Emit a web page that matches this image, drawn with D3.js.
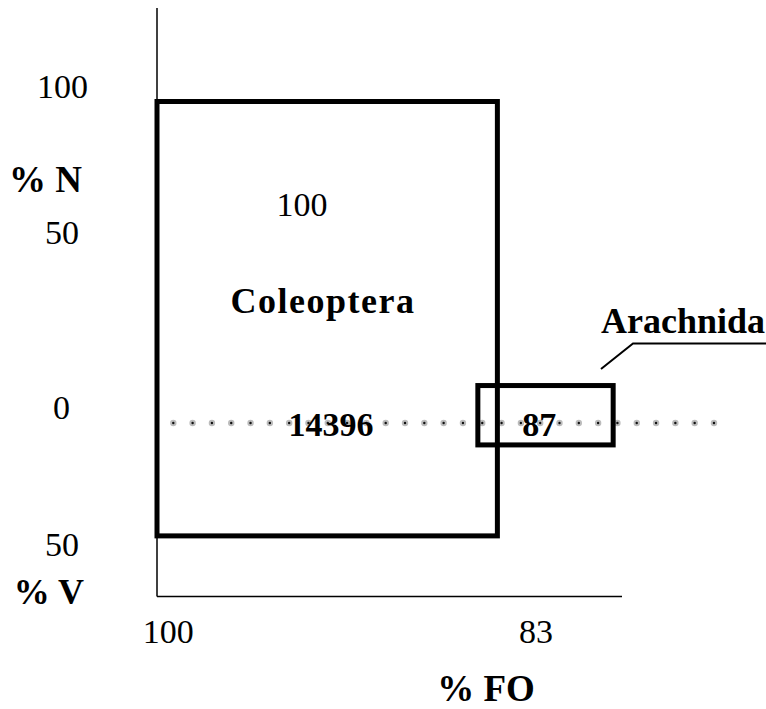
<!DOCTYPE html>
<html>
<head>
<meta charset="utf-8">
<script src="https://cdn.jsdelivr.net/npm/d3@7"></script>
<style>
  body { margin: 0; background: #fff; }
</style>
</head>
<body>
<svg id="chart"></svg>
<script>
// prey taxa and their boxes (FO along x, %N above zero, %V below zero)
var taxa = ["Coleoptera", "Arachnida"];
var foFrom = [0, 69];
var foTo = [73.2, 98.1];
var pctN = [100, 10.7];
var pctV = [41.2, 8];
var counts = ["14396", "87"];
var nLabel = ["100", ""];

var yTicks = [100, 50, 0, -50];
var yTickText = ["100", "50", "0", "50"];
var foTicks = [2.4, 81.5];
var foTickText = ["100", "83"];

var width = 766, height = 709;
var serif = "Liberation Serif";

var svg = d3.select("#chart")
    .attr("width", width)
    .attr("height", height);

var x = d3.scaleLinear()
    .domain([0, 100])
    .range([157, 622]);

// %V is drawn downwards as negative values
var y = d3.scaleLinear()
    .domain([-50, 0, 50, 100])
    .range([560, 423, 248, 101.5]);

var boxes = taxa.map(function(t, i) {
    return {name: t, x0: foFrom[i], x1: foTo[i], n: pctN[i], v: pctV[i], count: counts[i], nl: nLabel[i]};
});

function label(px, py, txt, size, bold, anchor) {
    return svg.append("text")
        .attr("x", px).attr("y", py)
        .attr("font-family", serif)
        .attr("font-size", size)
        .attr("font-weight", bold ? "bold" : "normal")
        .attr("text-anchor", anchor || "middle")
        .attr("fill", "#000")
        .text(txt);
}

// dotted zero line
var dots = d3.range(0, 29).map(function(i) { return 173.3 + i * 19.31; });
var dotG = svg.append("g");
dotG.selectAll("circle.o")
    .data(dots)
    .enter().append("circle")
    .attr("class", "o")
    .attr("cx", function(d) { return d; })
    .attr("cy", y(0))
    .attr("r", 3.2)
    .attr("fill", "#bcbcbc");
dotG.selectAll("circle.i")
    .data(dots)
    .enter().append("circle")
    .attr("class", "i")
    .attr("cx", function(d) { return d; })
    .attr("cy", y(0))
    .attr("r", 1.2)
    .attr("fill", "#111");

// axes
svg.append("line")
    .attr("x1", x(0)).attr("x2", x(0))
    .attr("y1", 8).attr("y2", 596.5)
    .attr("stroke", "#000").attr("stroke-width", 1.5);
svg.append("line")
    .attr("x1", x(0)).attr("x2", x(100))
    .attr("y1", 596.5).attr("y2", 596.5)
    .attr("stroke", "#000").attr("stroke-width", 1.5);

// boxes
svg.selectAll("rect.box")
    .data(boxes)
    .enter().append("rect")
    .attr("class", "box")
    .attr("x", function(d) { return x(d.x0); })
    .attr("y", function(d) { return y(d.n); })
    .attr("width", function(d) { return x(d.x1) - x(d.x0); })
    .attr("height", function(d) { return y(-d.v) - y(d.n); })
    .attr("fill", "none")
    .attr("stroke", "#000")
    .attr("stroke-width", 5);

// y tick labels
yTicks.forEach(function(d, i) {
    var right = i == 0 ? 88 : (i == 2 ? 70 : 79);
    label(right, y(d) - 4, yTickText[i], 34, false, "end");
});
label(82, 192, "% N", 37, true, "end");
label(84, 604, "% V", 36, true, "end");

// x tick labels
foTicks.forEach(function(d, i) {
    label(x(d), 643, foTickText[i], 34, false, "middle");
});
label(486, 701, "% FO", 37, true, "middle");

// labels inside the Coleoptera box
var col = boxes[0];
label(x(31.2), y(61), col.nl, 34, false, "middle");
label(x(35.7), y(31.4), col.name, 36, true, "middle")
    .attr("letter-spacing", 1.5);

// counts on the zero line
boxes.forEach(function(d, i) {
    label(i == 0 ? x(37.4) : x(82.2), y(0) + 13, d.count, 34, true, "middle");
});

// Arachnida callout
var ara = boxes[1];
svg.append("polyline")
    .attr("points", [[601, 369], [633, 343.5], [766, 343.5]].map(function(p) { return p.join(","); }).join(" "))
    .attr("fill", "none")
    .attr("stroke", "#000")
    .attr("stroke-width", 2);
label(765, 333, ara.name, 36, true, "end");
</script>
</body>
</html>
